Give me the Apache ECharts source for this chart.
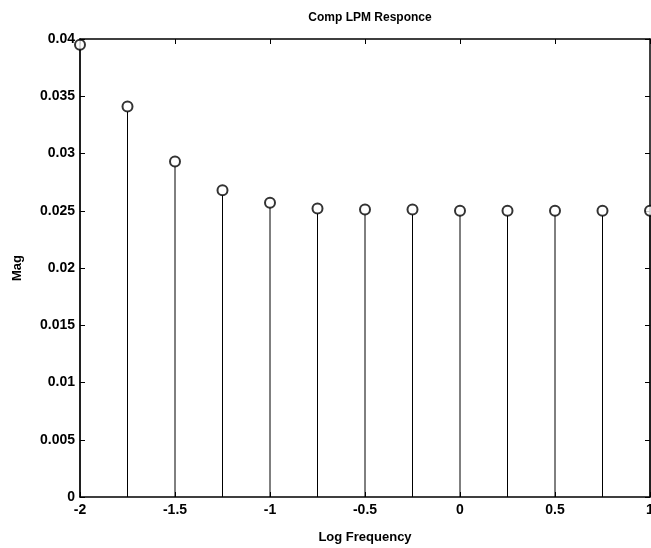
<!DOCTYPE html>
<html><head><meta charset="utf-8">
<script src="https://cdn.jsdelivr.net/npm/echarts@6/dist/echarts.min.js"></script>
<style>html,body{margin:0;padding:0;background:#fff}#c{width:651px;height:548px}</style>
</head><body><div id="c"></div>
<script>
var freqs = [-2, -1.75, -1.5, -1.25, -1, -0.75, -0.5, -0.25, 0, 0.25, 0.5, 0.75, 1];
var mags = [0.0395, 0.0341, 0.0293, 0.0268, 0.0257, 0.0252, 0.0251, 0.0251, 0.0250, 0.0250, 0.0250, 0.0250, 0.0250];
var titleText = 'Comp LPM Responce';
var xName = 'Log Frequency';
var yName = 'Mag';

var pts = freqs.map(function(f, i){ return [f, mags[i]]; });
var font = '"Liberation Sans", Arial, sans-serif';
var chart = echarts.init(document.getElementById('c'));
var axisCommon = {
  axisLine: {show: true, onZero: false, lineStyle: {color: '#000', width: 1.5}},
  axisTick: {show: true, inside: true, length: 5, lineStyle: {color: '#000'}},
  splitLine: {show: false}
};
chart.setOption({
  animation: false,
  backgroundColor: '#fff',
  title: {text: titleText, left: 365, top: 7, textAlign: 'center',
    textStyle: {fontFamily: font, fontSize: 12, fontWeight: 'bold', color: '#000'}},
  grid: {left: 80, right: 1, top: 39, bottom: 51, outerBoundsMode: 'none', containLabel: false},
  xAxis: [
    Object.assign({type: 'value', min: -2, max: 1, interval: 0.5, position: 'bottom',
      name: xName, nameLocation: 'middle', nameGap: 34,
      nameTextStyle: {fontFamily: font, fontSize: 13, fontWeight: 'bold', color: '#000'},
      axisLabel: {fontFamily: font, fontSize: 14, fontWeight: 'bold', color: '#000', margin: 6}}, axisCommon),
    Object.assign({type: 'value', min: -2, max: 1, interval: 0.5, position: 'top',
      axisLabel: {show: false}}, axisCommon)
  ],
  yAxis: [
    Object.assign({type: 'value', min: 0, max: 0.04, interval: 0.005, position: 'left',
      name: yName, nameLocation: 'middle', nameGap: 56, nameRotate: 90,
      nameTextStyle: {fontFamily: font, fontSize: 13, fontWeight: 'bold', color: '#000'},
      axisLabel: {fontFamily: font, fontSize: 14, fontWeight: 'bold', color: '#000', margin: 5,
        formatter: function(v){ return String(+v.toFixed(3)); }}}, axisCommon),
    Object.assign({type: 'value', min: 0, max: 0.04, interval: 0.005, position: 'right',
      axisLabel: {show: false}}, axisCommon)
  ],
  series: [
    {type: 'custom', data: pts, clip: false,
      renderItem: function(params, api){
        var top = api.coord([api.value(0), api.value(1)]);
        var bot = api.coord([api.value(0), 0]);
        return {type: 'line', shape: {x1: top[0], y1: top[1] + 5, x2: bot[0], y2: bot[1]},
          style: {stroke: '#000', lineWidth: 1}};
      }},
    {type: 'scatter', data: pts, symbol: 'emptyCircle', symbolSize: 10, z: 5,
      itemStyle: {color: '#000', borderColor: '#000', borderWidth: 1}}
  ]
});
</script></body></html>
